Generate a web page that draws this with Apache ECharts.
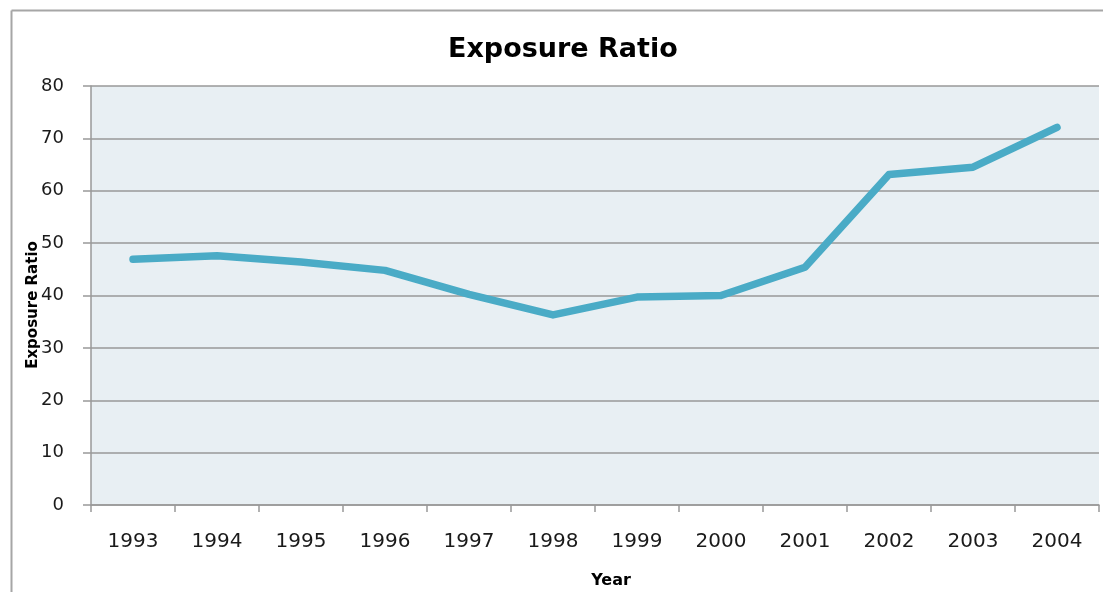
<!DOCTYPE html>
<html>
<head>
<meta charset="utf-8">
<script src="https://cdn.jsdelivr.net/npm/echarts@6/dist/echarts.min.js"></script>
<style>
  html, body { margin: 0; padding: 0; background: #ffffff; overflow: hidden; }
  #chart { width: 1103px; height: 592px; }
</style>
</head>
<body>
<div id="chart"></div>
<script>
const years = ['1993','1994','1995','1996','1997','1998','1999','2000','2001','2002','2003','2004'];
const exposureRatio = [46.9, 47.6, 46.4, 44.8, 40.2, 36.3, 39.7, 40.0, 45.4, 63.1, 64.5, 72.1];
const yTicks = { min: 0, max: 80, interval: 10 };
const titleText = 'Exposure Ratio';
const xName = 'Year';
const yName = 'Exposure Ratio';

const chart = echarts.init(document.getElementById('chart'), null, { renderer: 'canvas' });
const font = 'DejaVu Sans';
chart.setOption({
  animation: false,
  backgroundColor: '#ffffff',
  title: {
    text: titleText,
    left: 443,
    top: 31,
    textStyle: { fontFamily: font, fontWeight: 'bold', fontSize: 27, color: '#000000' }
  },
  graphic: [
    {
      type: 'line', z: -1, silent: true,
      shape: { x1: 11.5, y1: 592, x2: 11.5, y2: 10.5 },
      style: { stroke: '#a6a6a6', lineWidth: 2 }
    },
    {
      type: 'line', z: -1, silent: true,
      shape: { x1: 11.5, y1: 10.5, x2: 1103, y2: 10.5 },
      style: { stroke: '#a6a6a6', lineWidth: 2 }
    },
    {
      type: 'text', silent: true,
      x: 33, y: 305, rotation: Math.PI / 2,
      style: {
        text: yName, fontFamily: font, fontWeight: 'bold', fontSize: 15,
        fill: '#000000', align: 'center', verticalAlign: 'middle'
      }
    },
    {
      type: 'text', silent: true,
      x: 611, y: 581,
      style: {
        text: xName, fontFamily: font, fontWeight: 'bold', fontSize: 16,
        fill: '#000000', align: 'center', verticalAlign: 'middle'
      }
    }
  ],
  grid: {
    left: 91, right: 4, top: 86, bottom: 87,
    show: true, backgroundColor: '#e8eff3', borderWidth: 0
  },
  xAxis: {
    type: 'category',
    data: years,
    boundaryGap: true,
    axisLine: { show: true, lineStyle: { color: '#999999', width: 1.5 } },
    axisTick: { show: true, length: 7, lineStyle: { color: '#999999', width: 1.5 } },
    axisLabel: { margin: 27, fontFamily: font, fontSize: 20, color: '#1a1a1a' },
    splitLine: { show: false }
  },
  yAxis: {
    type: 'value',
    min: yTicks.min, max: yTicks.max, interval: yTicks.interval,
    axisLine: { show: true, lineStyle: { color: '#999999', width: 1.5 } },
    axisTick: { show: true, inside: false, length: 8, lineStyle: { color: '#999999', width: 1.5 } },
    axisLabel: { margin: 27, fontFamily: font, fontSize: 18, color: '#1a1a1a' },
    splitLine: { show: true, lineStyle: { color: '#999999', width: 1.5 } }
  },
  series: [{
    type: 'line',
    data: exposureRatio,
    symbol: 'none',
    smooth: false,
    lineStyle: { color: '#4aabc6', width: 7.5, cap: 'round', join: 'round' },
    itemStyle: { color: '#4aabc6' }
  }]
});
</script>
</body>
</html>
